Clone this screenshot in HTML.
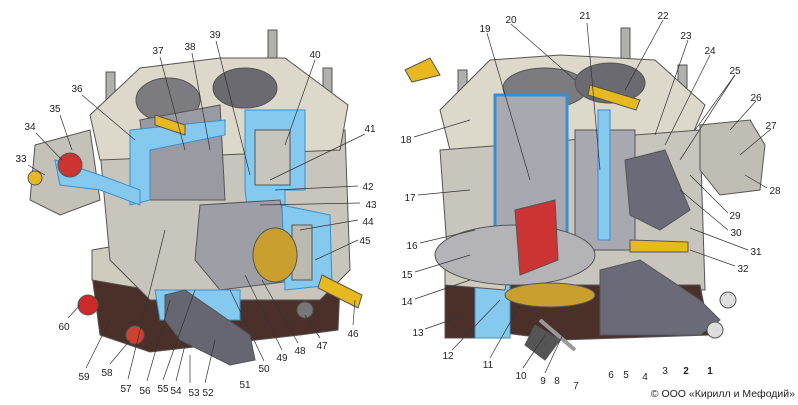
<!DOCTYPE html>
<html><head><meta charset="utf-8"><style>
html,body{margin:0;padding:0;background:#fff;}
svg{display:block;font-family:"Liberation Sans",sans-serif;}
text{font-size:10px;fill:#222;text-anchor:middle;}
.l{stroke:#333;stroke-width:0.7;fill:none;}
.o{stroke:#555;stroke-width:1;}
</style></head><body>
<svg width="798" height="405" viewBox="0 0 798 405" xmlns="http://www.w3.org/2000/svg">
<!-- LEFT carburetor -->
<g class="o">
<rect x="106" y="72" width="9" height="40" fill="#b0b0ac"/>
<rect x="268" y="30" width="9" height="38" fill="#b0b0ac"/>
<rect x="323" y="68" width="9" height="38" fill="#b0b0ac"/>
<polygon points="92,275 150,275 340,285 338,330 300,335 150,352 100,335" fill="#4a3028"/>
<polygon points="92,250 150,240 330,260 335,290 150,290 92,280" fill="#cfcbbd"/>
<polygon points="100,150 345,130 350,270 320,300 150,300 110,260" fill="#c8c6bc"/>
<polygon points="90,115 140,68 220,58 285,58 348,105 340,150 100,160" fill="#dcd8ca"/>
<ellipse cx="168" cy="100" rx="32" ry="22" fill="#7c7c80"/>
<ellipse cx="245" cy="88" rx="32" ry="20" fill="#6a6a70"/>
<polygon points="140,120 220,105 225,200 150,200" fill="#9a9aa2"/>
<polygon points="130,130 225,120 225,135 150,150 150,200 130,205" fill="#86c9ee" stroke="#3a8ed0"/>
<polygon points="245,110 305,110 305,190 285,190 285,230 250,230 245,190" fill="#86c9ee" stroke="#3a8ed0"/>
<rect x="255" y="130" width="35" height="55" fill="#c8c6bc"/>
<polygon points="200,205 280,200 300,280 220,290 195,260" fill="#9e9ea6"/>
<polygon points="282,205 330,215 332,285 285,290" fill="#86c9ee" stroke="#3a8ed0"/>
<rect x="292" y="225" width="20" height="55" fill="#bcbab0"/>
<ellipse cx="275" cy="255" rx="22" ry="27" fill="#c9a030"/>
<polygon points="155,290 240,290 240,320 160,320" fill="#86c9ee" stroke="#3a8ed0"/>
<polygon points="322,275 362,295 358,308 318,288" fill="#e8b820"/>
<polygon points="35,145 90,130 100,200 60,215 30,200" fill="#c4c2b8"/>
<polygon points="55,160 100,175 140,190 140,205 100,190 60,185" fill="#86c9ee" stroke="#3a8ed0"/>
<circle cx="70" cy="165" r="12" fill="#cc3333"/>
<circle cx="35" cy="178" r="7" fill="#e8b820"/>
<circle cx="88" cy="305" r="10" fill="#cc2a2a"/>
<circle cx="135" cy="335" r="9" fill="#d04030"/>
<polygon points="155,115 185,125 185,135 155,125" fill="#e8b820"/>
<polygon points="165,295 185,290 250,335 255,360 230,365 180,340 165,320" fill="#666670"/>
<circle cx="305" cy="310" r="8" fill="#777"/>
</g>
<!-- RIGHT carburetor -->
<g class="o">
<rect x="458" y="70" width="9" height="40" fill="#b0b0ac"/>
<rect x="621" y="28" width="9" height="40" fill="#b0b0ac"/>
<rect x="678" y="65" width="9" height="38" fill="#b0b0ac"/>
<polygon points="405,70 430,58 440,75 412,82" fill="#e8b820"/>
<polygon points="440,110 490,60 560,55 655,60 705,105 690,140 450,150" fill="#dcd8ca"/>
<polygon points="440,150 700,130 705,290 450,290" fill="#c8c6bc"/>
<polygon points="470,285 700,285 710,335 560,340 480,330" fill="#4a3028"/>
<rect x="445" y="283" width="65" height="55" fill="#4a3028"/>
<rect x="475" y="283" width="35" height="55" fill="#86c9ee" stroke="#3a8ed0"/>
<polygon points="445,255 510,260 505,290 445,285" fill="#cfcbbd"/>
<ellipse cx="545" cy="88" rx="42" ry="20" fill="#7c7c80"/>
<ellipse cx="610" cy="83" rx="35" ry="20" fill="#6a6a70"/>
<rect x="495" y="95" width="72" height="150" fill="#a8a8b0" stroke="#3a8ed0" stroke-width="3"/>
<rect x="575" y="130" width="60" height="120" fill="#a8a8b0"/>
<rect x="598" y="110" width="12" height="130" fill="#86c9ee" stroke="#3a8ed0"/>
<polygon points="590,85 640,100 636,110 588,95" fill="#e8b820"/>
<ellipse cx="515" cy="255" rx="80" ry="30" fill="#b4b4b8"/>
<polygon points="515,210 555,200 558,260 520,275" fill="#cc3333"/>
<ellipse cx="550" cy="295" rx="45" ry="12" fill="#c9a030"/>
<polygon points="630,240 688,242 688,252 630,252" fill="#e8b820"/>
<polygon points="700,125 750,120 765,145 760,190 720,195 700,170" fill="#c0beb4"/>
<polygon points="600,270 640,260 700,300 720,320 700,335 600,335" fill="#6a6a78"/>
<polygon points="625,160 665,150 690,210 660,230 630,215" fill="#6a6a78"/>
<circle cx="728" cy="300" r="8" fill="#ddd"/><circle cx="715" cy="330" r="8" fill="#ddd"/>
<line x1="540" y1="320" x2="575" y2="350" stroke="#999" stroke-width="4"/>
<polygon points="535,325 560,340 545,360 525,345" fill="#555"/>
</g>
<!-- leader lines -->
<g class="l">
<path d="M160,57 L185,150"/><path d="M192,53 L210,150"/><path d="M216,41 L250,175"/><path d="M315,60 L285,145"/>
<path d="M82,95 L135,140"/><path d="M60,115 L72,150"/><path d="M36,133 L62,160"/><path d="M28,165 L45,175"/>
<path d="M365,134 L270,180"/><path d="M358,186 L275,190"/><path d="M360,203 L260,205"/><path d="M358,220 L300,230"/><path d="M358,240 L315,260"/>
<path d="M353,325 L355,300"/><path d="M320,338 L305,315"/><path d="M298,343 L262,280"/><path d="M282,350 L245,275"/><path d="M264,361 L230,290"/>
<path d="M205,383 L215,340"/><path d="M190,383 L190,355"/><path d="M176,381 L185,345"/><path d="M163,380 L195,290"/><path d="M147,381 L170,300"/><path d="M128,379 L165,230"/>
<path d="M110,364 L130,340"/><path d="M86,368 L110,320"/><path d="M68,318 L80,305"/>
<path d="M487,33 L530,180"/><path d="M511,24 L575,80"/><path d="M587,23 L600,170"/><path d="M663,20 L625,90"/><path d="M688,40 L655,135"/>
<path d="M710,55 L665,145"/><path d="M735,75 L680,160"/><path d="M735,75 L695,130"/><path d="M756,101 L730,130"/><path d="M771,129 L740,155"/>
<path d="M767,188 L745,175"/><path d="M728,213 L690,175"/><path d="M728,230 L680,190"/><path d="M748,250 L690,228"/><path d="M735,266 L690,250"/>
<path d="M414,137 L470,120"/><path d="M418,195 L470,190"/><path d="M420,243 L475,230"/><path d="M415,272 L470,255"/><path d="M415,299 L470,280"/>
<path d="M425,329 L465,315"/><path d="M452,350 L500,300"/><path d="M490,358 L520,305"/><path d="M523,368 L545,335"/><path d="M545,373 L565,330"/>
</g>
<!-- labels -->
<g>
<text x="158" y="54">37</text><text x="190" y="50">38</text><text x="215" y="38">39</text><text x="315" y="58">40</text>
<text x="77" y="92">36</text><text x="55" y="112">35</text><text x="30" y="130">34</text><text x="21" y="162">33</text>
<text x="370" y="132">41</text><text x="368" y="190">42</text><text x="371" y="208">43</text><text x="368" y="225">44</text><text x="365" y="244">45</text>
<text x="353" y="337">46</text><text x="322" y="349">47</text><text x="300" y="354">48</text><text x="282" y="361">49</text><text x="264" y="372">50</text>
<text x="245" y="388">51</text><text x="208" y="396">52</text><text x="194" y="396">53</text><text x="176" y="394">54</text><text x="163" y="392">55</text>
<text x="145" y="394">56</text><text x="126" y="392">57</text><text x="107" y="376">58</text><text x="84" y="380">59</text><text x="64" y="330">60</text>
<text x="485" y="32">19</text><text x="511" y="23">20</text><text x="585" y="19">21</text><text x="663" y="19">22</text><text x="686" y="39">23</text>
<text x="710" y="54">24</text><text x="735" y="74">25</text><text x="756" y="101">26</text><text x="771" y="129">27</text><text x="775" y="194">28</text>
<text x="735" y="219">29</text><text x="736" y="236">30</text><text x="756" y="255">31</text><text x="743" y="272">32</text>
<text x="406" y="143">18</text><text x="410" y="201">17</text><text x="412" y="249">16</text><text x="407" y="278">15</text><text x="407" y="305">14</text>
<text x="418" y="336">13</text><text x="448" y="359">12</text><text x="488" y="368">11</text><text x="521" y="379">10</text><text x="543" y="384">9</text>
<text x="557" y="384">8</text><text x="576" y="389">7</text><text x="611" y="378">6</text><text x="626" y="378">5</text><text x="645" y="380">4</text>
<text x="665" y="374">3</text><text x="686" y="374" font-weight="bold">2</text><text x="710" y="374" font-weight="bold">1</text>
<text x="795" y="397" style="font-size:10.5px;text-anchor:end">© ООО «Кирилл и Мефодий»</text>
</g>
</svg>
</body></html>
